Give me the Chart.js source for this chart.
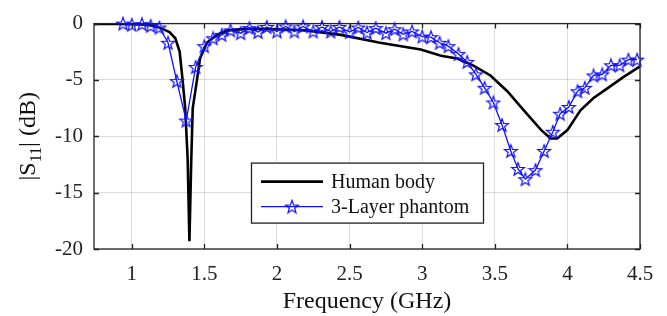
<!DOCTYPE html>
<html>
<head>
<meta charset="utf-8">
<script src="https://cdn.jsdelivr.net/npm/chart.js@4.4.0/dist/chart.umd.min.js"></script>
<style>
  html, body { margin: 0; padding: 0; background: #fff; }
  #wrap { width: 667px; height: 316px; }
</style>
</head>
<body>
<div id="wrap"><canvas id="s11Chart" width="667" height="316"></canvas></div>
<script>
// S11 vs frequency, human body vs 3-layer phantom

const seriesNames = ['Human body', '3-Layer phantom'];

const humanFreq = [0.74, 0.9, 1.0, 1.1, 1.15, 1.2, 1.26, 1.3, 1.33, 1.35, 1.368, 1.385, 1.397,
    1.41, 1.42, 1.448, 1.47, 1.517, 1.586, 1.66, 1.8, 2.0, 2.2, 2.44, 2.71, 2.99, 3.13,
    3.24, 3.35, 3.47, 3.586, 3.70, 3.82, 3.885, 3.93, 4.0, 4.09, 4.18, 4.28, 4.39, 4.5];
const humanS11 = [-0.02, -0.03, -0.05, -0.1, -0.2, -0.4, -0.75, -1.3, -2.5, -5.0, -7.5, -12, -19.3,
    -12, -7.5, -5.1, -3.1, -1.7, -1.0, -0.6, -0.45, -0.5, -0.6, -1.0, -1.7, -2.3, -2.85,
    -3.1, -3.7, -4.6, -6.0, -7.7, -9.45, -10.2, -10.2, -9.45, -7.7, -6.6, -5.7, -4.7, -3.8];

const phantomFreq = [0.94, 1.00, 1.07, 1.13, 1.19, 1.25, 1.31, 1.375, 1.44, 1.50, 1.56, 1.62,
    1.68, 1.75, 1.81, 1.87, 1.93, 2.00, 2.06, 2.12, 2.18, 2.25, 2.31, 2.37, 2.43, 2.50,
    2.56, 2.62, 2.68, 2.75, 2.81, 2.87, 2.93, 3.00, 3.06, 3.12, 3.18, 3.25, 3.31, 3.37,
    3.43, 3.49, 3.55, 3.61, 3.66, 3.71, 3.78, 3.84, 3.90, 3.95, 4.01, 4.07, 4.12, 4.18,
    4.24, 4.30, 4.36, 4.42, 4.48];
const phantomS11 = [0.0, -0.1, -0.05, -0.2, -0.35, -1.7, -5.1, -8.6, -3.85, -2.0, -1.3, -1.0,
    -0.6, -0.85, -0.4, -0.75, -0.3, -0.7, -0.25, -0.7, -0.25, -0.7, -0.3, -0.7, -0.3, -0.75,
    -0.35, -0.8, -0.4, -0.85, -0.5, -0.95, -0.7, -1.15, -1.2, -1.7, -2.0, -2.7, -3.4, -4.5,
    -5.7, -7.0, -9.0, -11.3, -12.9, -13.8, -13.0, -11.3, -9.6, -8.0, -7.4, -6.0, -5.7, -4.6,
    -4.5, -3.7, -3.7, -3.2, -3.2];

const xTickValues = [1, 1.5, 2, 2.5, 3, 3.5, 4, 4.5];
const yTickValues = [-20, -15, -10, -5, 0];
const xRange = [0.74, 4.5];
const yRange = [-20, 0];

const serif = "'Liberation Serif', 'Times New Roman', serif";
const axisColor = '#222';
const gridColor = 'rgba(38, 38, 38, 0.16)';

// hollow pentagram marker like matlab 'p'
function makeStar(color) {
    const c = document.createElement('canvas');
    const s = 16;
    c.width = s; c.height = s;
    const g = c.getContext('2d');
    const cx = s / 2, cy = s / 2 + 0.6, R = 6.8, r = 2.8;
    g.beginPath();
    for (let k = 0; k < 10; k++) {
        const a = -Math.PI / 2 + k * Math.PI / 5;
        const rad = k % 2 === 0 ? R : r;
        g.lineTo(cx + rad * Math.cos(a), cy + rad * Math.sin(a));
    }
    g.closePath();
    g.strokeStyle = color;
    g.lineWidth = 1.2;
    g.stroke();
    return c;
}
const starImg = makeStar('#1010ff');

function toPoints(xs, ys) {
    return xs.map((x, i) => ({ x: x, y: ys[i] }));
}

const decorPlugin = {
    id: 'decor',
    afterDraw(chart) {
        const ctx = chart.ctx;
        const a = chart.chartArea;
        const xs = chart.scales.x, ys = chart.scales.y;
        ctx.save();

        // box + inward ticks
        ctx.strokeStyle = axisColor;
        ctx.lineWidth = 1.3;
        ctx.strokeRect(a.left, a.top, a.right - a.left, a.bottom - a.top);
        ctx.beginPath();
        xTickValues.forEach(v => {
            const px = Math.round(xs.getPixelForValue(v)) + 0.5;
            ctx.moveTo(px, a.bottom); ctx.lineTo(px, a.bottom - 5);
            ctx.moveTo(px, a.top); ctx.lineTo(px, a.top + 5);
        });
        yTickValues.forEach(v => {
            const py = Math.round(ys.getPixelForValue(v)) + 0.5;
            ctx.moveTo(a.left, py); ctx.lineTo(a.left + 5, py);
            ctx.moveTo(a.right, py); ctx.lineTo(a.right - 5, py);
        });
        ctx.stroke();

        // legend
        const lx = a.left + 157, ly = a.top + 139, lw = 232, lh = 60;
        ctx.fillStyle = '#fff';
        ctx.fillRect(lx, ly, lw, lh);
        ctx.lineWidth = 1.3;
        ctx.strokeStyle = axisColor;
        ctx.strokeRect(lx + 0.5, ly + 0.5, lw, lh);
        chart.data.datasets.forEach((ds, i) => {
            const rowY = ly + 19 + i * 25;
            ctx.beginPath();
            ctx.strokeStyle = ds.borderColor;
            ctx.lineWidth = ds.borderWidth;
            ctx.moveTo(lx + 10, rowY);
            ctx.lineTo(lx + 72, rowY);
            ctx.stroke();
            if (ds.pointStyle instanceof HTMLCanvasElement) {
                ctx.drawImage(ds.pointStyle, lx + 41 - ds.pointStyle.width / 2, rowY - ds.pointStyle.height / 2);
            }
            ctx.fillStyle = '#111';
            ctx.font = '20px ' + serif;
            ctx.textBaseline = 'middle';
            ctx.textAlign = 'left';
            ctx.fillText(ds.label, lx + 80, rowY + 1);
        });

        // y axis title |S11| (dB) with subscript
        const cy = (a.top + a.bottom) / 2;
        ctx.translate(35, cy);
        ctx.rotate(-Math.PI / 2);
        ctx.fillStyle = '#111';
        ctx.textBaseline = 'alphabetic';
        ctx.textAlign = 'left';
        const big = '24px ' + serif, small = '16px ' + serif;
        const parts = [['|S', big, 0], ['11', small, 6], ['| (dB)', big, 0]];
        let total = 0;
        parts.forEach(p => { ctx.font = p[1]; total += ctx.measureText(p[0]).width; });
        let x = -total / 2;
        parts.forEach(p => {
            ctx.font = p[1];
            ctx.fillText(p[0], x, p[2]);
            x += ctx.measureText(p[0]).width;
        });
        ctx.restore();
    }
};

const ctx = document.getElementById('s11Chart').getContext('2d');
new Chart(ctx, {
    type: 'line',
    data: {
        datasets: [
            {
                label: seriesNames[0],
                data: toPoints(humanFreq, humanS11),
                borderColor: '#000',
                borderWidth: 2.6,
                pointRadius: 0,
                tension: 0,
                order: 1
            },
            {
                label: seriesNames[1],
                data: toPoints(phantomFreq, phantomS11),
                borderColor: '#1010ff',
                borderWidth: 1.3,
                pointStyle: starImg,
                pointRadius: 6,
                tension: 0,
                clip: 8,
                order: 0
            }
        ]
    },
    options: {
        responsive: false,
        animation: false,
        devicePixelRatio: 1,
        layout: { padding: { top: 17, right: 27, left: 0, bottom: 0 } },
        plugins: {
            legend: { display: false },
            tooltip: { enabled: false }
        },
        scales: {
            x: {
                type: 'linear',
                min: xRange[0],
                max: xRange[1],
                afterBuildTicks: s => { s.ticks = xTickValues.map(v => ({ value: v })); },
                afterFit: s => { s.height = 67; },
                border: { display: false },
                grid: { color: gridColor, lineWidth: 1, drawTicks: false },
                ticks: {
                    color: '#222',
                    font: { family: serif, size: 21 },
                    padding: 13,
                    maxRotation: 0,
                    autoSkip: false,
                    callback: v => String(v)
                },
                title: {
                    display: true,
                    text: 'Frequency (GHz)',
                    color: '#111',
                    font: { family: serif, size: 24 },
                    padding: { top: 0, bottom: 0 }
                }
            },
            y: {
                min: yRange[0],
                max: yRange[1],
                afterBuildTicks: s => { s.ticks = yTickValues.map(v => ({ value: v })); },
                afterFit: s => { s.width = 94; },
                border: { display: false },
                grid: { color: gridColor, lineWidth: 1, drawTicks: false },
                ticks: {
                    color: '#222',
                    font: { family: serif, size: 21 },
                    padding: 11,
                    callback: v => String(v)
                }
            }
        }
    },
    plugins: [decorPlugin]
});
</script>
</body>
</html>
